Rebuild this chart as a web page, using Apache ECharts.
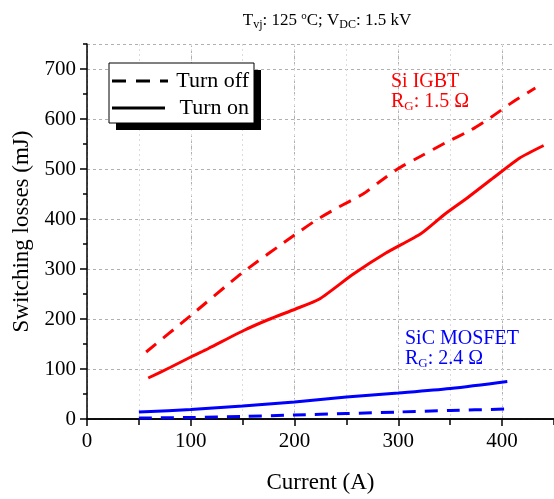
<!DOCTYPE html>
<html>
<head>
<meta charset="utf-8">
<script src="https://cdn.jsdelivr.net/npm/echarts@6/dist/echarts.min.js"></script>
<style>html,body{margin:0;padding:0;background:#fff}#c{width:554px;height:499px}</style>
</head>
<body>
<div id="c"></div>
<script>
// Data
const xTicks = [0, 100, 200, 300, 400];
const yTicks = [0, 100, 200, 300, 400, 500, 600, 700];

const siOffCurrent = [57, 100, 150, 200, 221, 240, 266, 281, 300, 322, 345, 370, 389, 411, 432];
const siOffLoss    = [134, 207, 293, 368, 398, 421, 450, 473, 501, 526, 552, 578, 603, 635, 662];

const siOnCurrent = [59, 80, 100, 117, 151, 175, 201, 224, 256, 288, 322, 345, 367, 392, 417, 440];
const siOnLoss    = [82, 103, 124, 141, 177, 199, 220, 240, 289, 332, 371, 410, 443, 483, 522, 547];

const sicOnCurrent = [50, 100, 150, 200, 250, 300, 350, 405];
const sicOnLoss    = [14, 19, 26, 34, 44, 52, 61, 75];

const sicOffCurrent = [50, 100, 150, 200, 250, 300, 350, 405];
const sicOffLoss    = [2, 3, 5, 8, 11, 14, 17, 20];

const FONT = '"Liberation Serif", "Times New Roman", serif';
const RED = '#ff0000';
const BLUE = '#0000ff';

function pairs(xs, ys) { return xs.map((x, i) => [x, ys[i]]); }

const chart = echarts.init(document.getElementById('c'), null, {renderer: 'canvas'});

const subStyle = (color, size) => ({fontFamily: FONT, fontSize: size, fill: color, padding: [10, 0, 0, 0], lineHeight: 13});
const mainStyle = (color, size) => ({fontFamily: FONT, fontSize: size, fill: color, lineHeight: size});

const X_MAX = 450, Y_MAX = 750;
const axisBlack = {color: '#000', width: 1.5};

const option = {
  animation: false,
  backgroundColor: '#fff',
  title: {
    text: '{m|T}{s|vj}{m|: 125 }{p|o}{m|C; V}{s|DC}{m|: 1.5 kV}',
    left: 322, top: 7, textAlign: 'center',
    textStyle: {
      fontWeight: 'normal',
      rich: {
        m: {fontFamily: FONT, fontSize: 17, color: '#000', fontWeight: 'normal', lineHeight: 17},
        s: {fontFamily: FONT, fontSize: 12, color: '#000', fontWeight: 'normal', padding: [9, 0, 0, 0], lineHeight: 12},
        p: {fontFamily: FONT, fontSize: 11, color: '#000', fontWeight: 'normal', padding: [0, 0, 8, 0], lineHeight: 11}
      }
    }
  },
  grid: {left: 87, right: -7, top: 44, bottom: 74, containLabel: false},
  xAxis: [{
    type: 'value', min: 0, max: X_MAX, interval: 100,
    name: 'Current (A)', nameLocation: 'middle', nameGap: 52,
    nameTextStyle: {fontFamily: FONT, fontSize: 23, color: '#000'},
    axisLine: {show: true, onZero: false, lineStyle: axisBlack},
    axisTick: {show: true, inside: false, length: 7, lineStyle: axisBlack},
    axisLabel: {fontFamily: FONT, fontSize: 21, color: '#000', margin: 12, showMaxLabel: false,
      formatter: v => xTicks.includes(v) ? String(v) : ''},
    splitLine: {show: true, lineStyle: {color: '#b0b0b0', type: [3, 3], width: 1}}
  }, {
    // minor ticks every 50 A
    type: 'value', position: 'bottom', min: 0, max: X_MAX, interval: 50,
    axisLine: {show: false},
    axisTick: {show: true, inside: false, length: 4, lineStyle: axisBlack},
    axisLabel: {show: false},
    splitLine: {show: true, lineStyle: {color: '#dcdcdc', type: [2, 3], width: 1}}
  }, {
    type: 'value', position: 'top', min: 0, max: X_MAX, interval: 50,
    axisLine: {show: true, lineStyle: axisBlack},
    axisTick: {show: true, inside: true, length: 6, lineStyle: axisBlack},
    axisLabel: {show: false}, splitLine: {show: false}
  }],
  yAxis: [{
    type: 'value', min: 0, max: Y_MAX, interval: 100,
    name: 'Switching losses (mJ)', nameLocation: 'middle', nameGap: 46,
    nameTextStyle: {fontFamily: FONT, fontSize: 23, color: '#000'},
    axisLine: {show: true, onZero: false, lineStyle: axisBlack},
    axisTick: {show: true, inside: false, length: 7, lineStyle: axisBlack},
    axisLabel: {fontFamily: FONT, fontSize: 21, color: '#000', margin: 11, showMaxLabel: false,
      formatter: v => yTicks.includes(v) ? String(v) : ''},
    splitLine: {show: true, lineStyle: {color: '#b0b0b0', type: [3, 3], width: 1}}
  }, {
    // minor ticks every 50 mJ
    type: 'value', position: 'left', min: 0, max: Y_MAX, interval: 50,
    axisLine: {show: false},
    axisTick: {show: true, inside: false, length: 4, lineStyle: axisBlack},
    axisLabel: {show: false}, splitLine: {show: false}
  }],
  series: [
    {name: 'Si IGBT turn off', type: 'line', symbol: 'none', smooth: 0.2,
     lineStyle: {color: RED, width: 3, type: [13, 9]}, data: pairs(siOffCurrent, siOffLoss)},
    {name: 'Si IGBT turn on', type: 'line', symbol: 'none', smooth: 0.2,
     lineStyle: {color: RED, width: 3}, data: pairs(siOnCurrent, siOnLoss)},
    {name: 'SiC MOSFET turn on', type: 'line', symbol: 'none', smooth: 0.3,
     lineStyle: {color: BLUE, width: 3}, data: pairs(sicOnCurrent, sicOnLoss)},
    {name: 'SiC MOSFET turn off', type: 'line', symbol: 'none', smooth: 0.3,
     lineStyle: {color: BLUE, width: 3, type: [13, 9]}, data: pairs(sicOffCurrent, sicOffLoss)}
  ],
  graphic: [
    // legend box with shadow
    {type: 'rect', shape: {x: 116, y: 70, width: 145, height: 60}, style: {fill: '#000'}, z: 100},
    {type: 'rect', shape: {x: 109, y: 63, width: 145, height: 60}, style: {fill: '#fff', stroke: '#000', lineWidth: 1}, z: 101},
    {type: 'line', shape: {x1: 112, y1: 81, x2: 168, y2: 81}, style: {stroke: '#000', lineWidth: 3, lineDash: [14, 10]}, z: 102},
    {type: 'text', x: 249, y: 81, style: {text: 'Turn off', font: '22px ' + FONT, fill: '#000', align: 'right', verticalAlign: 'middle'}, z: 102},
    {type: 'line', shape: {x1: 112, y1: 108, x2: 165, y2: 108}, style: {stroke: '#000', lineWidth: 3}, z: 102},
    {type: 'text', x: 249, y: 108, style: {text: 'Turn on', font: '22px ' + FONT, fill: '#000', align: 'right', verticalAlign: 'middle'}, z: 102},
    // annotations
    {type: 'text', x: 391, y: 72, z: 102, style: {
      text: '{m|Si IGBT}\n{m|R}{s|G}{m|: 1.5 Ω}',
      rich: {m: mainStyle(RED, 20), s: subStyle(RED, 13)}}},
    {type: 'text', x: 405, y: 329, z: 102, style: {
      text: '{m|SiC MOSFET}\n{m|R}{s|G}{m|: 2.4 Ω}',
      rich: {m: mainStyle(BLUE, 20), s: subStyle(BLUE, 13)}}}
  ]
};
chart.setOption(option);
</script>
</body>
</html>
